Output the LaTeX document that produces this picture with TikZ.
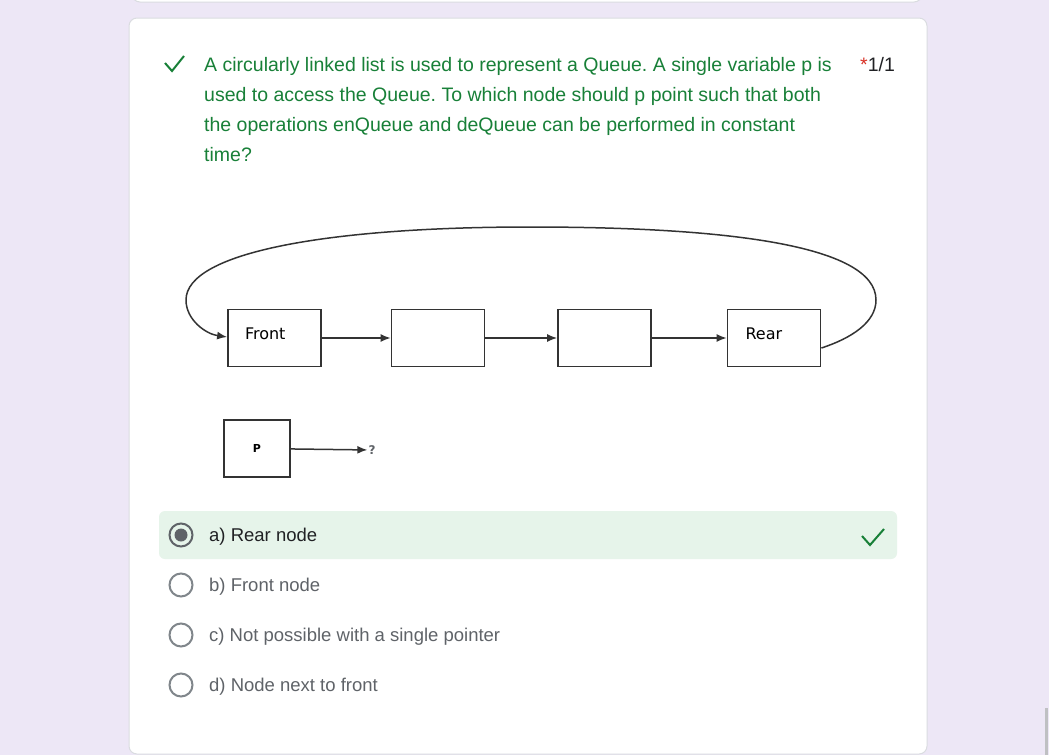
\documentclass[tikz,border=0pt]{standalone}
\usepackage{fontspec}
\setmainfont{Liberation Sans}
\newfontfamily\figfont{DejaVu Sans}
\usepackage{xcolor}
\usepackage{tikz}
\usetikzlibrary{positioning, arrows.meta}
\frenchspacing

\definecolor{pagebg}{HTML}{EDE7F6}
\definecolor{cardline}{HTML}{DADCE0}
\definecolor{qgreen}{HTML}{188038}
\definecolor{starred}{HTML}{D93025}
\definecolor{darktext}{HTML}{202124}
\definecolor{greytext}{HTML}{5F6368}
\definecolor{radiogrey}{HTML}{80868B}
\definecolor{pickbg}{HTML}{E6F4EA}
\definecolor{inkline}{HTML}{333333}

\begin{document}
\begin{tikzpicture}[
  x=1pt, y=-1pt,
  font=\fontsize{19.5}{30}\selectfont,
  card/.style={draw=cardline, fill=white, line width=1pt, rounded corners=8pt},
  cell/.style={draw=inkline, line width=1.8pt, minimum width=93pt,
    minimum height=57pt, inner sep=0pt, text width=93pt, align=left,
    font=\figfont\fontsize{16}{17}\selectfont},
  link/.style={draw=inkline, line width=1.5pt, -{Latex[length=10pt, width=8pt]}},
  tick/.style={draw=qgreen, line width=2pt, line join=miter},
  radio/.style={circle, draw=radiogrey, line width=2pt, minimum size=23pt, inner sep=0pt},
  choice/.style={anchor=base west, inner sep=0pt, text=greytext,
    font=\fontsize{18.5}{22}\selectfont},
]
  % page and cards
  \useasboundingbox (0,0) rectangle (1049,755);
  \fill[pagebg] (0,0) rectangle (1049,755);
  \draw[card] (132,-20) rectangle (922,2);
  \draw[card] (129,18) rectangle (927,754);
  \fill[cardline!70!gray] (1045,708) rectangle (1048,755);

  % question
  \draw[tick] (165,63) -- (172,71) -- (184,56);
  \node[anchor=base west, align=left, inner sep=0pt, text=qgreen] (question) at (204,161)
    {A circularly linked list is used to represent a Queue. A single variable p is\\
     used to access the Queue. To which node should p point such that both\\
     the operations enQueue and deQueue can be performed in constant\\
     time?};
  \node[anchor=base west, inner sep=0pt] (score) at (860,71)
    {\textcolor{starred}{*}\textcolor{darktext}{1/1}};

  % linked list
  \node[cell] (front)  at (274.5,338) {\hspace*{17pt}\raisebox{8pt}{Front}};
  \node[cell] (second) at (438,338) {};
  \node[cell] (third)  at (604.5,338) {};
  \node[cell] (rear)   at (774,338) {\hspace*{18pt}\raisebox{8pt}{Rear}};
  \draw[link] (front)  -- (second);
  \draw[link] (second) -- (third);
  \draw[link] (third)  -- (rear);
  \coordinate (loopR)   at (876,300);
  \coordinate (loopTop) at (530,227);
  \coordinate (loopL)   at (186,300);
  \draw[link] ([yshift=-10pt]rear.east) .. controls (852,338) and (876,322) .. (loopR)
    .. controls (876,244) and (720,227) .. (loopTop)
    .. controls (330,227) and (186,252) .. (loopL)
    .. controls (186,320) and (206,334) .. ([yshift=1pt]front.west);

  % pointer p
  \node[cell, minimum width=66pt, text width=66pt, align=center] (ptr) at (257,448.5)
    {\fontsize{11}{12}\selectfont\bfseries P};
  \node[font=\figfont\fontsize{12}{13}\selectfont\bfseries, text=greytext, inner sep=1pt] (unknown) at (372,450) {?};
  \draw[link] (ptr) -- (unknown);

  % answers
  \fill[pickbg, rounded corners=6pt] (159,511) rectangle (897,559);
  \node[radio, draw=greytext] (ra) at (181,535) {};
  \fill[greytext] (ra) circle (6.5pt);
  \node[radio] (rb) at (181,585) {};
  \node[radio] (rc) at (181,635) {};
  \node[radio] (rd) at (181,685) {};
  \node[choice, text=darktext] (oa) at (209,541) {a) Rear node};
  \node[choice] (ob) at (209,591) {b) Front node};
  \node[choice] (oc) at (209,641) {c) Not possible with a single pointer};
  \node[choice] (od) at (209,691) {d) Node next to front};
  \draw[tick] (862,536) -- (870,545) -- (884,529);
\end{tikzpicture}
\end{document}
